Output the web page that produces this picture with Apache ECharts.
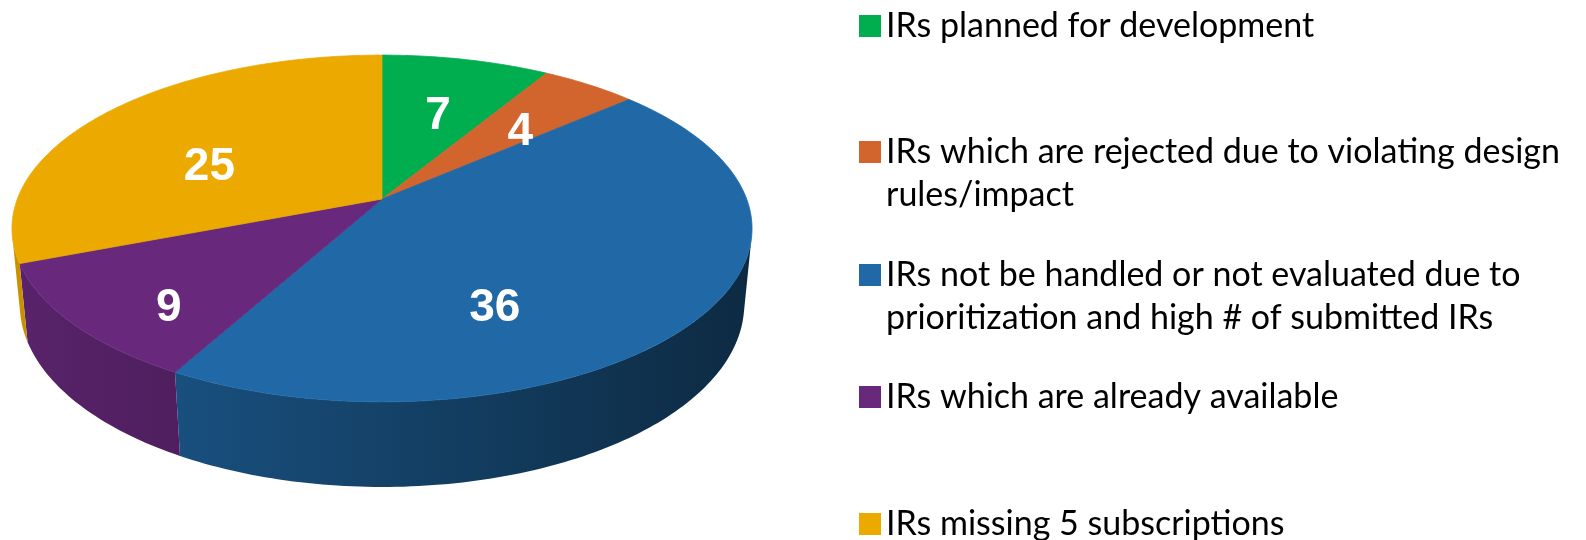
<!DOCTYPE html>
<html>
<head>
<meta charset="utf-8">
<script src="https://cdn.jsdelivr.net/npm/echarts@6/dist/echarts.min.js"></script>
<style>
  html, body { margin: 0; background: #fff; }
  #chart { width: 1586px; height: 540px; }
</style>
</head>
<body>
<div id="chart"></div>
<script>
const categories = [
  'IRs planned for development',
  'IRs which are rejected due to violating design rules/impact',
  'IRs not be handled or not evaluated due to prioritization and high # of submitted IRs',
  'IRs which are already available',
  'IRs missing 5 subscriptions'
]
const values = [7, 4, 36, 9, 25]
const colors = ['#00ad4f', '#d2652d', '#2169a6', '#68297c', '#eca900']

const total = values.reduce((a, b) => a + b, 0)
const starts = []
let acc = 0
values.forEach(v => { starts.push(acc); acc += v })

// simple perspective camera looking down on the pie
const cx = 382, cy = 199, F = 1902, dist = 5.216, depth = 0.237
const tilt = 27.5 * Math.PI / 180
const sa = Math.sin(tilt), ca = Math.cos(tilt)
function project(theta, r, y) {
  const X = r * Math.sin(theta), D = r * Math.cos(theta)
  const yc = D * sa + y * ca
  const z = dist + D * ca - y * sa
  return [cx + F * X / z, cy - F * yc / z]
}
// outer wall only faces the camera on this arc
const k = Math.acos(-1 / (dist * ca))
const wallFrom = k, wallTo = 2 * Math.PI - k

function shade(hex, f) {
  const n = parseInt(hex.slice(1), 16)
  const r = Math.round(((n >> 16) & 255) * f)
  const g = Math.round(((n >> 8) & 255) * f)
  const b = Math.round((n & 255) * f)
  return 'rgb(' + r + ',' + g + ',' + b + ')'
}

function arc(a0, a1, r, y) {
  const pts = []
  const steps = Math.max(2, Math.ceil((a1 - a0) / (Math.PI / 180)))
  for (let s = 0; s <= steps; s++) {
    pts.push(project(a0 + (a1 - a0) * s / steps, r, y))
  }
  return pts
}

// area and centroid of a polygon (shoelace)
function centroid(pts) {
  let A = 0, x = 0, y = 0
  for (let j = 0; j < pts.length; j++) {
    const p = pts[j], q = pts[(j + 1) % pts.length]
    const c = p[0] * q[1] - q[0] * p[1]
    A += c
    x += (p[0] + q[0]) * c
    y += (p[1] + q[1]) * c
  }
  A /= 2
  return { a: Math.abs(A), x: x / (6 * A), y: y / (6 * A) }
}

function renderSlice(i) {
  return function (params, api) {
    const v = api.value(0)
    const a0 = starts[i] / total * Math.PI * 2
    const a1 = (starts[i] + v) / total * Math.PI * 2
    const color = colors[i]
    const children = []

    const face = [project(0, 0, 0)].concat(arc(a0, a1, 1, 0))
    const fc = centroid(face)
    let lx = fc.x * fc.a, ly = fc.y * fc.a, la = fc.a

    const w0 = Math.max(a0, wallFrom), w1 = Math.min(a1, wallTo)
    if (w1 > w0) {
      const top = arc(w0, w1, 1, 0)
      const bottom = arc(w0, w1, 1, -depth).reverse()
      const wall = top.concat(bottom)
      const wc = centroid(wall)
      const wa = wc.a * 0.5
      lx += wc.x * wa; ly += wc.y * wa; la += wa
      children.push({
        type: 'polygon',
        z2: 1,
        shape: { points: wall },
        style: {
          fill: new echarts.graphic.LinearGradient(cx - 370, 0, cx + 370, 0, [
            { offset: 0, color: shade(color, 0.86) },
            { offset: 1, color: shade(color, 0.4) }
          ], true),
          stroke: null
        }
      })
    }

    children.push({
      type: 'polygon',
      z2: 10,
      shape: { points: face },
      style: { fill: color, stroke: color, lineWidth: 0.8 }
    })

    // value label at the visual centre of the slice
    children.push({
      type: 'text',
      z2: 20,
      style: {
        text: String(v),
        x: lx / la,
        y: ly / la + 9,
        fill: '#fff',
        font: 'bold 46px "Liberation Sans", Arial, sans-serif',
        align: 'center',
        verticalAlign: 'middle'
      }
    })
    return { type: 'group', children: children }
  }
}

const chart = echarts.init(document.getElementById('chart'))

const legendTops = [4.5, 87.5, 210.5, 375.5, 502.5]
const twoLine = [false, true, true, false, false]

const option = {
  animation: false,
  color: colors,
  legend: categories.map((name, i) => ({
    data: [name],
    orient: 'vertical',
    left: 859,
    top: legendTops[i],
    padding: 0,
    icon: 'rect',
    itemWidth: 22,
    itemHeight: 22,
    selectedMode: false,
    // an empty first line keeps the square level with the first text line
    formatter: n => (twoLine[i] ? ' \n' : '') + n,
    textStyle: {
      fontFamily: 'Lato',
      fontSize: 34,
      color: '#000',
      lineHeight: 43,
      width: 692,
      overflow: 'break'
    }
  })),
  series: values.map((v, i) => ({
    type: 'custom',
    name: categories[i],
    coordinateSystem: 'none',
    silent: true,
    itemStyle: { color: colors[i] },
    data: [v],
    renderItem: renderSlice(i)
  }))
}

chart.setOption(option)
window.addEventListener('resize', () => {
  chart.resize()
})
</script>
</body>
</html>
